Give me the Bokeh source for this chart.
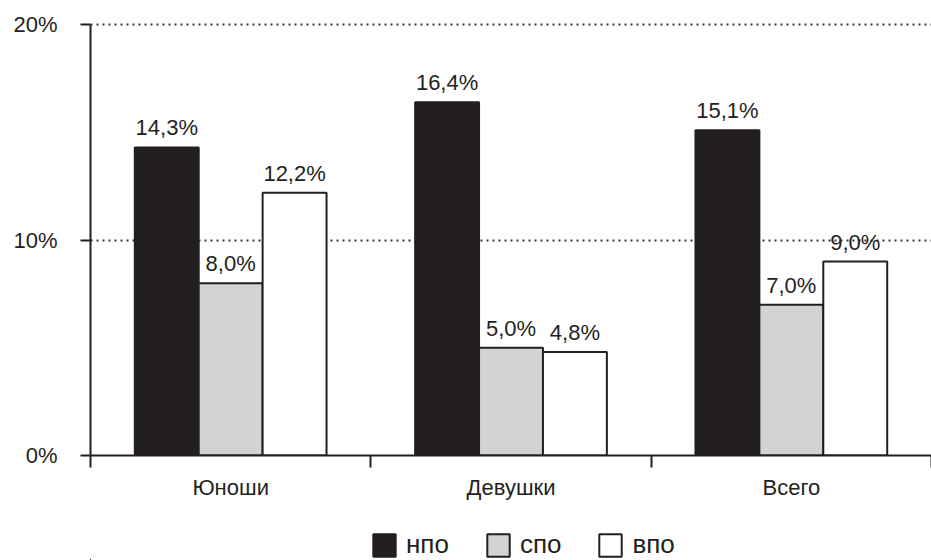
from bokeh.plotting import figure
from bokeh.layouts import column
from bokeh.models import (Range1d, FixedTicker, ColumnDataSource, Legend, LegendItem)
from bokeh.core.properties import value
from bokeh.embed import file_html
from bokeh.resources import INLINE

categories = ["Юноши", "Девушки", "Всего"]
series_names = ["нпо", "спо", "впо"]
npo = [14.3, 16.4, 15.1]
spo = [8.0, 5.0, 7.0]
vpo = [12.2, 4.8, 9.0]
y_ticks = [0, 10, 20]
y_tick_labels = ["0%", "10%", "20%"]

FONT = "Liberation Sans"
INK = "#231f20"
fills = [INK, "#d1d3d4", "#ffffff"]
bar_w = 0.228
offsets = [-bar_w, 0.0, bar_w]

p = figure(frame_width=841, frame_height=433, output_backend="svg", toolbar_location=None,
           x_range=Range1d(0, len(categories)), y_range=Range1d(0, 20.1),
           min_border_left=90, min_border_right=0, min_border_top=22,
           min_border_bottom=60)
p.outline_line_color = None
p.background_fill_color = "white"

# grid
p.xgrid.visible = False
p.ygrid.ticker = FixedTicker(ticks=[10, 20])
p.ygrid.grid_line_color = "#333333"
p.ygrid.grid_line_dash = "2 4"
p.ygrid.grid_line_width = 2

sources = []
for k, (vals, fc) in enumerate(zip([npo, spo, vpo], fills)):
    xs = [i + 0.5 + offsets[k] for i in range(len(categories))]
    labels = [f"{v:.1f}".replace(".", ",") + "%" for v in vals]
    src = ColumnDataSource(dict(x=xs, top=vals, lab=labels))
    sources.append(src)
    p.vbar(x="x", top="top", bottom=0, width=bar_w, source=src,
           fill_color=fc, line_color=INK, line_width=2)
    p.text(x="x", y="top", text="lab", source=src, text_align="center",
           text_baseline="bottom", y_offset=-7, text_font=value(FONT),
           text_font_size="22px", text_color=INK)

# x axis
xa = p.xaxis[0]
xa.ticker = FixedTicker(ticks=[i + 0.5 for i in range(len(categories))],
                        minor_ticks=list(range(len(categories) + 1)))
xa.major_label_overrides = {i + 0.5: c for i, c in enumerate(categories)}
xa.major_tick_out = 0
xa.major_tick_in = 0
xa.minor_tick_out = 12
xa.minor_tick_in = 0
xa.minor_tick_line_color = INK
xa.minor_tick_line_width = 2
xa.axis_line_color = INK
xa.axis_line_width = 2
xa.major_label_text_font = FONT
xa.major_label_text_font_size = "22px"
xa.major_label_text_color = INK
xa.major_label_standoff = 7

# y axis
ya = p.yaxis[0]
ya.ticker = FixedTicker(ticks=y_ticks)
ya.bounds = (0, 20)
ya.major_label_overrides = {t: l for t, l in zip(y_ticks, y_tick_labels)}
ya.major_tick_out = 10
ya.major_tick_in = 0
ya.minor_tick_out = 0
ya.minor_tick_in = 0
ya.major_tick_line_color = INK
ya.major_tick_line_width = 2
ya.axis_line_color = INK
ya.axis_line_width = 2
ya.major_label_text_font = FONT
ya.major_label_text_font_size = "22px"
ya.major_label_text_color = INK
ya.major_label_standoff = 23

# legend strip below the chart (its bars lie outside this strip's view)
p2 = figure(frame_width=931, frame_height=30, output_backend="svg", toolbar_location=None,
            x_range=Range1d(100, 101), y_range=Range1d(100, 101),
            x_axis_location=None, y_axis_location=None,
            min_border_left=0, min_border_right=0, min_border_top=15,
            min_border_bottom=0)
p2.outline_line_color = None
p2.xgrid.visible = False
p2.ygrid.visible = False
leg_renderers = []
for src, fc in zip(sources, fills):
    r = p2.vbar(x="x", top="top", bottom=0, width=bar_w, source=src,
                fill_color=fc, line_color=INK, line_width=2)
    leg_renderers.append(r)

legend = Legend(items=[LegendItem(label=n, renderers=[r]) for n, r in zip(series_names, leg_renderers)],
                orientation="horizontal", location=(370, 0),
                glyph_width=28, glyph_height=28, label_height=28,
                label_text_font=FONT, label_text_font_size="26px",
                label_text_color=INK, spacing=35, label_standoff=8,
                border_line_color=None, background_fill_alpha=0,
                padding=0, margin=0)
p2.add_layout(legend)

layout = column(p, p2, spacing=0)
open("out.html", "w").write(file_html(layout, INLINE))
